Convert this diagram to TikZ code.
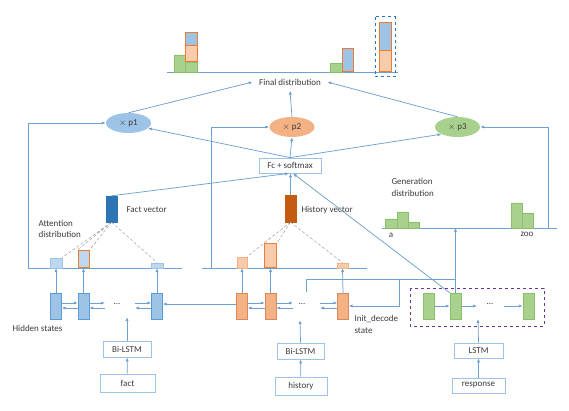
\documentclass[tikz,border=0pt]{standalone}
\usepackage{fontspec}
\setmainfont{Carlito}
\usepackage{tikz}
\usetikzlibrary{arrows.meta,shapes.geometric}
\definecolor{ln}{HTML}{6FA0D0}
\definecolor{txt}{HTML}{3A3A3A}
\definecolor{boxbd}{HTML}{9DC3E6}
\definecolor{bluef}{HTML}{9DC3E6}
\definecolor{bluebd}{HTML}{5B9BD5}
\definecolor{lbluef}{HTML}{BDD7EE}
\definecolor{orf}{HTML}{F4B183}
\definecolor{orbd}{HTML}{D9895A}
\definecolor{lorf}{HTML}{F8CBAD}
\definecolor{accor}{HTML}{ED7D31}
\definecolor{grf}{HTML}{A9D18E}
\definecolor{grbd}{HTML}{8CBF6A}
\definecolor{dkblue}{HTML}{2E75B6}
\definecolor{dkor}{HTML}{C55A11}
\definecolor{purp}{HTML}{7030A0}

\begin{document}
\begin{tikzpicture}[x=1pt,y=-1pt,>={Latex[length=4pt,width=3.2pt]},
  every node/.style={font=\fontsize{9}{11.5}\selectfont,text=txt},
  flow/.style={ln,line width=0.75pt},
  bcell/.style={draw=bluebd,fill=bluef,line width=0.4pt,minimum width=11pt,minimum height=26pt,inner sep=0pt},
  ocell/.style={draw=orbd,fill=orf,line width=0.4pt,minimum width=11pt,minimum height=26pt,inner sep=0pt},
  gcell/.style={draw=grbd,fill=grf,line width=0.4pt,minimum width=11pt,minimum height=26pt,inner sep=0pt},
  box/.style={draw=boxbd,fill=white,line width=0.75pt,inner sep=0pt},
  prob/.style={ellipse,minimum width=45pt,minimum height=20pt,inner sep=0pt},
  bar/.style={anchor=south,inner sep=0pt,line width=0.4pt},
  pick/.style={draw=accor,line width=1pt},
  att/.style={densely dashed,black!40,line width=0.45pt}]
\useasboundingbox (0,0) rectangle (569,411);

% final distribution
\draw[flow] (167,72)--(398,72);
\draw[draw=grbd,fill=grf,line width=0.4pt] (174,55) rectangle (185,72) (185,62) rectangle (197,72);
\draw[pick,fill=lorf] (185,46) rectangle (197,62);
\draw[pick,fill=bluef] (185,33) rectangle (197,46);
\draw[draw=grbd,fill=grf,line width=0.4pt] (330,63) rectangle (342,72);
\draw[pick,fill=bluef] (342,49) rectangle (353,72);
\draw[pick,fill=bluef] (379,23) rectangle (391,51);
\draw[pick,fill=lorf] (379,51) rectangle (391,72);
\draw[dkblue,dashed,line width=1pt] (375,17) rectangle (395,77);
\node (final) at (290,82) {Final distribution};

% switches
\node[prob,fill=bluef] (p1) at (128.5,123) {$\times$ p1};
\node[prob,fill=orf] (p2) at (292,127) {$\times$ p2};
\node[prob,fill=grf] (p3) at (457.5,127) {$\times$ p3};
\draw[flow,->] (p1.north) -- ([xshift=-3pt]final.west);
\draw[flow,->] (p2.north) -- ([yshift=-2pt]final.south);
\draw[flow,->] (p3.north) -- ([xshift=3pt]final.east);

\node[box,minimum width=62pt,minimum height=15pt] (fc) at (290,165.5) {Fc + softmax};
\draw[flow,->] (fc.north) -- (p1.-15);
\draw[flow,->] (fc.north) -- (p2.south);
\draw[flow,->] (fc.north) -- (p3.south west);

% context vectors
\node[draw=dkblue,fill=dkblue,minimum width=11pt,minimum height=26pt,inner sep=0pt] (fv) at (111.5,209) {};
\node[anchor=west] at (123,210) {Fact vector};
\node[draw=dkor,fill=dkor,minimum width=11pt,minimum height=27pt,inner sep=0pt] (hv) at (290.5,208.5) {};
\node[anchor=west] (hvl) at (298,210) {History vector};
\draw[flow,->] (fv.north) -- ([xshift=-1pt]fc.south);
\draw[flow,->] (hv.north) -- (hv.north|-fc.south);

% attention distributions
\node[anchor=west,align=left] at (35,229) {Attention\\distribution};
\coordinate (fl) at (28,268); \coordinate (fr) at (182,268);
\draw[flow] (fr) -- (fl);
\draw[flow,->] (fl) |- (p1.west);
\node[bar,draw=boxbd,fill=lbluef,minimum width=12pt,minimum height=10pt] (fb1) at (56,268) {};
\node[bar,pick,fill=lbluef,minimum width=11pt,minimum height=17pt] (fb2) at (83.5,268) {};
\node[bar,draw=boxbd,fill=lbluef,minimum width=12pt,minimum height=5pt] (fb3) at (157,268) {};
\draw[att] (fv.south) -- (fb1.north east) (fv.south) -- (fb2.north west) (fv.south) -- (fb2.north east) (fv.south) -- (fb3.north);

\coordinate (hl) at (202,268); \coordinate (hr) at (367,268);
\draw[flow] (hl) -- (hr);
\draw[flow,->] (211,268) |- (p2.west);
\node[bar,draw=orf,fill=lorf,minimum width=10pt,minimum height=11pt] (hb1) at (242,268) {};
\node[bar,pick,fill=lorf,minimum width=12pt,minimum height=24pt] (hb2) at (270.5,268) {};
\node[bar,draw=orf,fill=lorf,minimum width=11pt,minimum height=5pt] (hb3) at (342.5,268) {};
\draw[att] (hv.south) -- (hb1.north east) (hv.south) -- (hb2.north west) (hv.south) -- (hb2.north east) (hv.south) -- (hb3.north);

% generation distribution
\node[anchor=north west,align=left] at (388,175) {Generation\\distribution};
\coordinate (gl) at (382,228); \coordinate (gr) at (557,228);
\draw[flow] (gl) -- (gr);
\draw[flow,->] (548,228) |- (p3.east);
\draw[draw=grbd,fill=grf,line width=0.4pt] (385,219) rectangle (397,228) (397,212) rectangle (408,228) (408,222) rectangle (419,228)
  (511,203) rectangle (522,228) (522,213) rectangle (533,228);
\node at (391,235) {a};
\node at (527,234) {zoo};

% fact encoder
\node[bcell] (fh1) at (56,306) {};
\node[bcell] (fh2) at (83.5,306) {};
\node (fdots) at (117,304) {...};
\node[bcell] (fh3) at (157,306) {};
\node[anchor=east] at (66,328) {Hidden states};
\foreach \c/\b in {fh1/fb1,fh2/fb2,fh3/fb3} \draw[flow,->] (\c.north) -- (\b.south);
\draw[flow,->] ([yshift=3pt]fh1.east) -- ([yshift=3pt]fh2.west);
\draw[flow,->] ([yshift=-2pt]fh2.west) -- ([yshift=-2pt]fh1.east);
\draw[flow,->] ([yshift=3pt]fh2.east) -- (105,303);
\draw[flow,->] (105,308) -- ([yshift=-2pt]fh2.east);
\draw[flow,->] (135,303) -- ([yshift=3pt]fh3.west);
\draw[flow,->] ([yshift=-2pt]fh3.west) -- (135,308);

\node[box,minimum width=48pt,minimum height=16pt] (bif) at (127,349) {Bi-LSTM};
\node[box,minimum width=55pt,minimum height=18pt] (fact) at (127.5,383) {fact};
\draw[flow,->] (fact) -- (bif);
\draw[flow,->] (bif.north) -- (127,317);

% history encoder
\node[ocell] (oh1) at (242,306) {};
\node[ocell] (oh2) at (270.5,306) {};
\node (odots) at (302,304) {...};
\node[ocell] (oh3) at (343,306) {};
\node[anchor=north west,align=left] at (351,312) {Init\_decode\\state};
\foreach \c/\b in {oh1/hb1,oh2/hb2,oh3/hb3} \draw[flow,->] (\c.north) -- (\b.south);
\draw[flow,->] ([yshift=2pt]oh1.west) -- ([yshift=2pt]fh3.east);
\draw[flow,->] ([yshift=3pt]oh1.east) -- ([yshift=3pt]oh2.west);
\draw[flow,->] ([yshift=-2pt]oh2.west) -- ([yshift=-2pt]oh1.east);
\draw[flow,->] ([yshift=3pt]oh2.east) -- (293,303);
\draw[flow,->] (293,308) -- ([yshift=-2pt]oh2.east);
\draw[flow,->] (320,303) -- ([yshift=3pt]oh3.west);
\draw[flow,->] ([yshift=-2pt]oh3.west) -- (320,308);

\node[box,minimum width=47pt,minimum height=16pt] (bih) at (300.5,351) {Bi-LSTM};
\node[box,minimum width=52pt,minimum height=18pt] (hist) at (301,386) {history};
\draw[flow,->] (hist) -- (bih);
\draw[flow,->] (bih.north) -- (300,320);

% decoder
\draw[purp,dashed,line width=0.9pt] (410,288) rectangle (544,326);
\node[gcell] (g1) at (428.5,306) {};
\node[gcell] (g2) at (455.5,306) {};
\node (gdots) at (490,304) {...};
\node[gcell] (g3) at (528.5,306) {};
\draw[flow,->] (g1) -- (g2);
\draw[flow,->] (g2.east) -- (477,306);
\draw[flow,->] (504,306) -- (g3.west);
\draw[flow,->] (g2.north) -- (g2.north|-gl);
\draw[flow,->] (g2.north west) -- ([xshift=3pt]fc.south);
\coordinate (ja) at (306,279); \coordinate (jb) at (399,279);
\draw[flow] (g2.north|-ja) -- (ja) -- (306,292);
\draw[flow,->] (jb) |- (oh3.east);

\node[box,minimum width=49pt,minimum height=15pt] (lstm) at (478.5,350.5) {LSTM};
\node[box,minimum width=53pt,minimum height=15pt] (resp) at (478.5,385.5) {response};
\draw[flow,->] (resp) -- (lstm);
\draw[flow,->] (lstm.north) -- (478,319);
\end{tikzpicture}
\end{document}
